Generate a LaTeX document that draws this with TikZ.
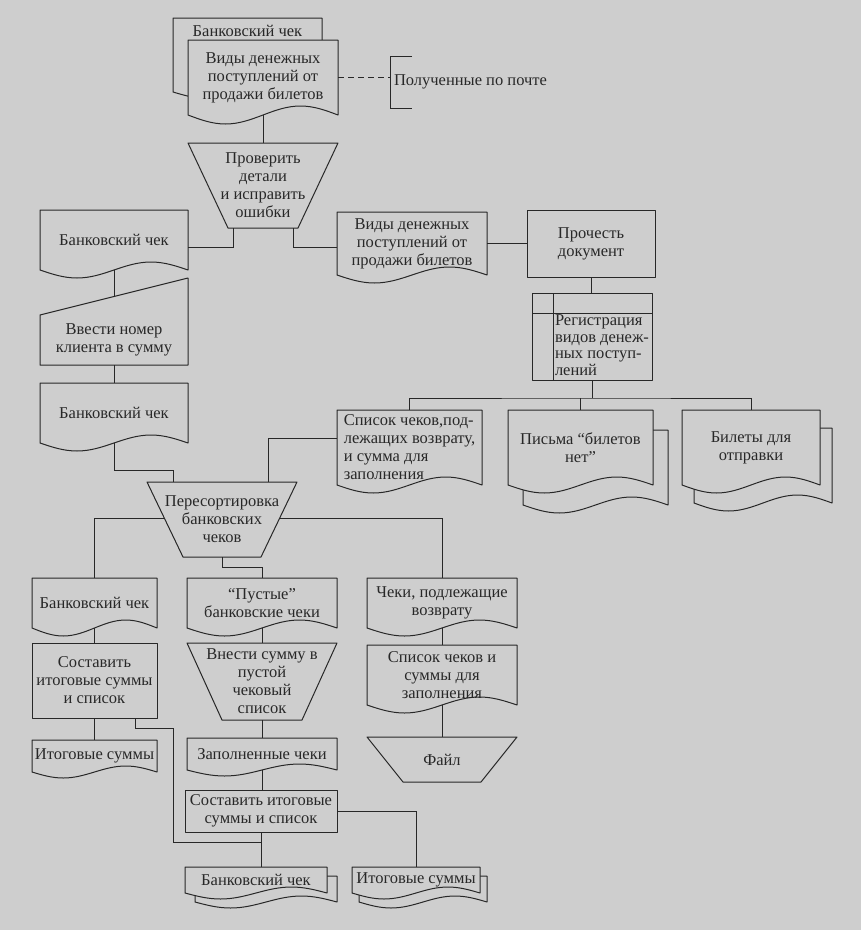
\documentclass[tikz,border=0pt]{standalone}
\usepackage{fontspec}
\setmainfont{Liberation Serif}
\usetikzlibrary{calc}
\definecolor{bg}{RGB}{206,206,206}
\definecolor{ink}{RGB}{40,40,40}
\pgfdeclarelayer{l0}\pgfdeclarelayer{l1}\pgfdeclarelayer{l2}
\pgfsetlayers{l0,l1,l2,main}
\newcommand\dgfont{\fontsize{16.5}{18}\selectfont}
\newcommand\docshape[3][l2]{%
\begin{pgfonlayer}{#1}
\path[shp] (#2.north west) -- (#2.north east) -- (#2.south east)
 sin ($(#2.south west)!0.75!(#2.south east)+(0,#3)$)
 cos ($(#2.south west)!0.5!(#2.south east)$)
 sin ($(#2.south west)!0.25!(#2.south east)+(0,-#3)$)
 cos (#2.south west) -- cycle;
\end{pgfonlayer}}
\newcommand\trapshape[2]{%
\begin{pgfonlayer}{l2}
\path[shp] (#1.north west) -- (#1.north east) -- ($(#1.south east)+(-#2,0)$) -- ($(#1.south west)+(#2,0)$) -- cycle;
\end{pgfonlayer}}
\newcommand\mishape[2]{%
\begin{pgfonlayer}{l2}
\path[shp] (#1.south west) -- (#1.north west) -- ($(#1.north east)+(0,#2)$) -- (#1.south east) -- cycle;
\end{pgfonlayer}}
\tikzset{
 shp/.style={draw=ink, fill=bg, line width=1pt, line join=round},
 con/.style={draw=ink, line width=1pt},
 nb/.style 2 args={inner sep=0pt, outer sep=0pt, align=center, font=\dgfont, text=ink, minimum width=#1, minimum height=#2},
 txt/.style={inner sep=0pt, outer sep=0pt, align=center, font=\dgfont, text=ink},
}
\begin{document}
\begin{tikzpicture}[x=1pt,y=1pt]
\useasboundingbox (0,0) rectangle (861,-930);
\begin{pgfonlayer}{l0}\fill[bg] (0,0) rectangle (861,-930);\end{pgfonlayer}

% top multi-document
\node[nb={150pt}{75pt}] (v1) at (263,-77.5) {Виды денежных\\поступлений от\\продажи билетов};
\node[nb={149pt}{74pt}] (b0) at (247.5,-55) {};
\node[txt] (b0t) at (247.5,-31) {Банковский чек};
\docshape[l1]{b0}{7}
\docshape{v1}{9}

% annotation
\coordinate (ann) at (390,-82);
\draw[con, dash pattern=on 6pt off 4pt] (v1.east) -- (ann |- v1.east);
\draw[con] ($(ann)+(22,26)$) -- ($(ann)+(0,26)$) -- ($(ann)+(0,-26)$) -- ($(ann)+(22,-26)$);
\node[txt, anchor=west] (annt) at ($(ann)+(4,0)$) {Полученные по почте};

% check details
\node[nb={150pt}{85pt}] (t1) at (263,-185.5) {Проверить\\детали\\и исправить\\ошибки};
\trapshape{t1}{40}

% left column
\node[nb={148pt}{60pt}] (b1) at (114,-240) {Банковский чек};
\docshape{b1}{8}
\node[nb={148pt}{50pt}] (m1) at (114,-340) {Ввести номер\\клиента в сумму};
\mishape{m1}{37}
\coordinate (m1top) at ($(m1.north west)!0.5!(m1.north east)+(0,18.5)$);
\node[nb={148pt}{60pt}] (b2) at (114,-413) {Банковский чек};
\docshape{b2}{8}

% middle upper
\node[nb={150pt}{63pt}] (v2) at (412,-243.5) {Виды денежных\\поступлений от\\продажи билетов};
\docshape{v2}{8}
\node[nb={128pt}{67pt}, shp] (p1) at (591,-243.5) {Прочесть\\документ};
\node[nb={120pt}{87pt}, shp] (r1) at (592,-336.5) {};
\draw[con] ($(r1.north west)+(0,-20)$) -- ($(r1.north east)+(0,-20)$);
\draw[con] ($(r1.north west)+(21,0)$) -- ($(r1.south west)+(21,0)$);
\node[txt, align=left, anchor=north west, font=\fontsize{16.5}{16.5}\selectfont] (r1t) at ($(r1.north west)+(23,-22)$) {Регистрация\\видов денеж-\\ных поступ-\\лений};

% outputs of registration
\node[nb={145pt}{75pt}, align=left] (s1) at (409.5,-447.5) {Список чеков,под-\\лежащих возврату,\\и сумма для\\заполнения};
\docshape{s1}{8}
\node[nb={145pt}{75pt}] (l1) at (580.5,-447.5) {Письма “билетов\\нет”};
\node[nb={145pt}{75pt}] (l1b) at ($(l1)+(15,-20)$) {};
\docshape[l1]{l1b}{8}
\docshape{l1}{8}
\node[nb={138pt}{75pt}] (bl) at (751,-447.5) {Билеты для\\отправки};
\node[nb={138pt}{75pt}] (blb) at ($(bl)+(12,-18)$) {};
\docshape[l1]{blb}{8}
\docshape{bl}{8}

% resort
\node[nb={150pt}{75pt}] (tp2) at (222,-519.5) {Пересортировка\\банковских\\чеков};
\trapshape{tp2}{36}
\coordinate (tp2bl) at ($(tp2.south west)+(36,0)$);
\coordinate (tp2br) at ($(tp2.south east)+(-36,0)$);

% row 3
\node[nb={125pt}{50pt}] (b3) at (94.5,-603) {Банковский чек};
\docshape{b3}{8}
\node[nb={150pt}{50pt}] (e1) at (262,-603) {“Пустые”\\банковские чеки};
\docshape{e1}{8}
\node[nb={150pt}{50pt}] (c1) at (442,-603) {Чеки, подлежащие\\возврату};
\docshape{c1}{8}

\node[nb={125pt}{75pt}, shp] (pr2) at (94.5,-680.5) {Составить\\итоговые суммы\\и список};
\node[nb={150pt}{77pt}] (t3) at (262,-681.5) {Внести сумму в\\пустой\\чековый\\список};
\trapshape{t3}{35}
\node[nb={150pt}{60pt}] (c2) at (442,-675) {Список чеков и\\суммы для\\заполнения};
\docshape{c2}{8}

\node[nb={125pt}{32pt}] (i1) at (94.5,-756) {Итоговые суммы};
\docshape{i1}{6}
\node[nb={150pt}{32pt}] (f1) at (262,-754) {Заполненные чеки};
\docshape{f1}{6}
\node[nb={150pt}{45pt}] (fl) at (442,-759.5) {Файл};
\trapshape{fl}{36}

\node[nb={152pt}{42pt}, shp] (pr3) at (261,-811) {Составить итоговые\\суммы и список};

\node[nb={142pt}{26pt}] (bk2) at (256,-880) {Банковский чек};
\node[nb={142pt}{26pt}] (bk2b) at ($(bk2)+(10,-9)$) {};
\docshape[l1]{bk2b}{6}
\docshape{bk2}{6}
\node[nb={128pt}{26pt}] (it2) at (416,-880) {Итоговые суммы};
\node[nb={128pt}{26pt}] (it2b) at ($(it2)+(7,-9)$) {};
\docshape[l1]{it2b}{6}
\docshape{it2}{6}

% connectors
\draw[con] (v1.south) -- (t1.north);
\draw[con] ($(t1.south west)+(45,0)$) |- ($(b1.east)+(0,-7)$);
\draw[con] ($(t1.south east)+(-45,0)$) |- ($(v2.west)+(0,-3.5)$);
\draw[con] (b1.south) -- (m1top);
\draw[con] (m1.south) -- (b2.north);
\draw[con] (b2.south) -- ++(0,-27) -| ($(tp2.north west)+(26,0)$);
\draw[con] ($(s1.west)+(0,9.5)$) -| ($(tp2.north east)+(-29,0)$);
\draw[con] (v2.east) -- (p1.west);
\draw[con] (p1.south) -- (p1.south |- r1.north);
\draw[con] (r1.south) -- ++(0,-18) coordinate (bus);
\draw[con] (s1.north) |- (bus) -| (bl.north);
\draw[con] (l1.north) -- (l1.north |- bus);
\draw[con] ($(tp2.north west)!0.48!(tp2bl)$) -| (b3.north);
\draw[con] ($(tp2.north east)!0.48!(tp2br)$) -| (c1.north);
\draw[con] (tp2.south) -- ++(0,-10) -| (e1.north);
\draw[con] (b3.south) -- (pr2.north);
\draw[con] (pr2.south) -- (i1.north);
\draw[con] (e1.south) -- (t3.north);
\draw[con] (t3.south) -- (f1.north);
\draw[con] (f1.south) -- (f1.south |- pr3.north);
\draw[con] (c1.south) -- (c2.north);
\draw[con] (c2.south) -- (fl.north);
\coordinate (jn) at ($(pr3.south)+(0,-10)$);
\draw[con] (pr3.south) -- (pr3.south |- bk2.north);
\draw[con] ($(pr2.south east)+(-22,0)$) |- ($(pr2.south east)+(16,-10)$) |- (jn);
\draw[con] (pr3.east) -| (it2.north);
\end{tikzpicture}
\end{document}
